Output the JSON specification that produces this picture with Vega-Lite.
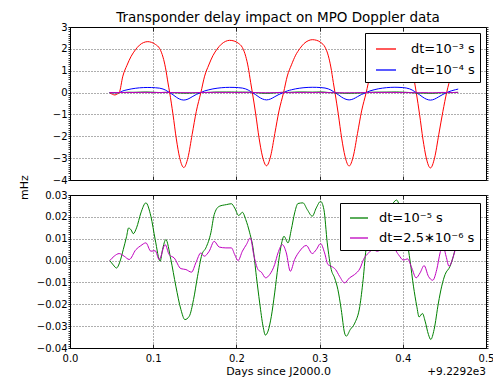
{
  "$schema": "https://vega.github.io/schema/vega-lite/v6.json",
  "padding": {"left": 17, "top": 10, "right": 0, "bottom": 0},
  "bounds": "flush",
  "spacing": 15,
  "datasets": {
    "top": [
      {"x": 0.0475, "r": 0, "b": 0},
      {"x": 0.051, "r": -0.08, "b": -0.008},
      {"x": 0.054, "r": -0.11, "b": -0.011},
      {"x": 0.057, "r": -0.06, "b": -0.006},
      {"x": 0.0592, "r": 0, "b": 0},
      {"x": 0.0635, "r": 0.75, "b": 0.075},
      {"x": 0.0685, "r": 1.25, "b": 0.125},
      {"x": 0.0735, "r": 1.66, "b": 0.166},
      {"x": 0.0785, "r": 1.95, "b": 0.195},
      {"x": 0.0835, "r": 2.17, "b": 0.217},
      {"x": 0.0885, "r": 2.29, "b": 0.229},
      {"x": 0.0935, "r": 2.33, "b": 0.233},
      {"x": 0.0978, "r": 2.30, "b": 0.230},
      {"x": 0.1028, "r": 2.20, "b": 0.220},
      {"x": 0.1078, "r": 2.01, "b": 0.201},
      {"x": 0.1118, "r": 1.62, "b": 0.162},
      {"x": 0.1148, "r": 1.13, "b": 0.113},
      {"x": 0.1178, "r": 0.44, "b": 0.044},
      {"x": 0.1198, "r": 0, "b": 0},
      {"x": 0.1238, "r": -1.0, "b": -0.1},
      {"x": 0.1278, "r": -2.12, "b": -0.212},
      {"x": 0.1318, "r": -2.98, "b": -0.298},
      {"x": 0.1368, "r": -3.43, "b": -0.343},
      {"x": 0.1418, "r": -2.97, "b": -0.297},
      {"x": 0.1468, "r": -1.92, "b": -0.192},
      {"x": 0.1518, "r": -0.86, "b": -0.086},
      {"x": 0.1573, "r": 0, "b": 0},
      {"x": 0.1618, "r": 0.75, "b": 0.075},
      {"x": 0.1668, "r": 1.26, "b": 0.126},
      {"x": 0.1718, "r": 1.69, "b": 0.169},
      {"x": 0.1768, "r": 1.99, "b": 0.199},
      {"x": 0.1818, "r": 2.21, "b": 0.221},
      {"x": 0.1868, "r": 2.34, "b": 0.234},
      {"x": 0.1918, "r": 2.39, "b": 0.239},
      {"x": 0.1972, "r": 2.36, "b": 0.236},
      {"x": 0.2022, "r": 2.26, "b": 0.226},
      {"x": 0.2072, "r": 2.06, "b": 0.206},
      {"x": 0.2112, "r": 1.66, "b": 0.166},
      {"x": 0.2142, "r": 1.16, "b": 0.116},
      {"x": 0.2172, "r": 0.45, "b": 0.045},
      {"x": 0.2192, "r": 0, "b": 0},
      {"x": 0.2232, "r": -0.98, "b": -0.098},
      {"x": 0.2272, "r": -2.07, "b": -0.207},
      {"x": 0.2312, "r": -2.9, "b": -0.29},
      {"x": 0.2362, "r": -3.35, "b": -0.335},
      {"x": 0.2412, "r": -2.9, "b": -0.29},
      {"x": 0.2462, "r": -1.87, "b": -0.187},
      {"x": 0.2512, "r": -0.84, "b": -0.084},
      {"x": 0.2567, "r": 0, "b": 0},
      {"x": 0.2612, "r": 0.76, "b": 0.076},
      {"x": 0.2662, "r": 1.27, "b": 0.127},
      {"x": 0.2712, "r": 1.71, "b": 0.171},
      {"x": 0.2762, "r": 2.01, "b": 0.201},
      {"x": 0.2812, "r": 2.24, "b": 0.224},
      {"x": 0.2862, "r": 2.37, "b": 0.237},
      {"x": 0.2912, "r": 2.42, "b": 0.242},
      {"x": 0.2965, "r": 2.39, "b": 0.239},
      {"x": 0.3015, "r": 2.29, "b": 0.229},
      {"x": 0.3065, "r": 2.08, "b": 0.208},
      {"x": 0.3105, "r": 1.68, "b": 0.168},
      {"x": 0.3135, "r": 1.17, "b": 0.117},
      {"x": 0.3165, "r": 0.46, "b": 0.046},
      {"x": 0.3185, "r": 0, "b": 0},
      {"x": 0.3225, "r": -0.99, "b": -0.099},
      {"x": 0.3265, "r": -2.08, "b": -0.208},
      {"x": 0.3305, "r": -2.91, "b": -0.291},
      {"x": 0.3355, "r": -3.36, "b": -0.336},
      {"x": 0.3405, "r": -2.91, "b": -0.291},
      {"x": 0.3455, "r": -1.88, "b": -0.188},
      {"x": 0.3505, "r": -0.84, "b": -0.084},
      {"x": 0.356, "r": 0, "b": 0},
      {"x": 0.3605, "r": 0.76, "b": 0.076},
      {"x": 0.3655, "r": 1.28, "b": 0.128},
      {"x": 0.3705, "r": 1.72, "b": 0.172},
      {"x": 0.3755, "r": 2.02, "b": 0.202},
      {"x": 0.3805, "r": 2.25, "b": 0.225},
      {"x": 0.3855, "r": 2.38, "b": 0.238},
      {"x": 0.3905, "r": 2.43, "b": 0.243},
      {"x": 0.3942, "r": 2.40, "b": 0.240},
      {"x": 0.3992, "r": 2.30, "b": 0.230},
      {"x": 0.4042, "r": 2.09, "b": 0.209},
      {"x": 0.4082, "r": 1.69, "b": 0.169},
      {"x": 0.4112, "r": 1.18, "b": 0.118},
      {"x": 0.4142, "r": 0.46, "b": 0.046},
      {"x": 0.4162, "r": 0, "b": 0},
      {"x": 0.4202, "r": -1.01, "b": -0.101},
      {"x": 0.4242, "r": -2.13, "b": -0.213},
      {"x": 0.4282, "r": -2.99, "b": -0.299},
      {"x": 0.4332, "r": -3.45, "b": -0.345},
      {"x": 0.4382, "r": -2.99, "b": -0.299},
      {"x": 0.4432, "r": -1.93, "b": -0.193},
      {"x": 0.4482, "r": -0.86, "b": -0.086},
      {"x": 0.4527, "r": 0, "b": 0},
      {"x": 0.4582, "r": 0.78, "b": 0.078},
      {"x": 0.4632, "r": 1.30, "b": 0.13},
      {"x": 0.4666, "r": 1.6, "b": 0.16}
    ],
    "green": [
      {"x": 0.0479, "v": 0},
      {"x": 0.052, "v": -0.002},
      {"x": 0.0559, "v": -0.0034},
      {"x": 0.06, "v": -0.0005},
      {"x": 0.064, "v": 0.005},
      {"x": 0.068, "v": 0.011},
      {"x": 0.0704, "v": 0.0149},
      {"x": 0.0735, "v": 0.014},
      {"x": 0.076, "v": 0.0123},
      {"x": 0.08, "v": 0.015},
      {"x": 0.0852, "v": 0.0218},
      {"x": 0.0912, "v": 0.0264},
      {"x": 0.0972, "v": 0.0203},
      {"x": 0.1024, "v": 0.0096},
      {"x": 0.1084, "v": -0.0003},
      {"x": 0.1112, "v": 0.005},
      {"x": 0.1152, "v": 0.0096},
      {"x": 0.1212, "v": 0.0005},
      {"x": 0.1272, "v": -0.0117},
      {"x": 0.1333, "v": -0.0224},
      {"x": 0.1381, "v": -0.027},
      {"x": 0.1433, "v": -0.0255},
      {"x": 0.1485, "v": -0.0178},
      {"x": 0.1533, "v": -0.0072},
      {"x": 0.1585, "v": 0.0027},
      {"x": 0.1633, "v": 0.0058},
      {"x": 0.1693, "v": 0.0127},
      {"x": 0.1733, "v": 0.021},
      {"x": 0.1793, "v": 0.0248},
      {"x": 0.188, "v": 0.0256},
      {"x": 0.194, "v": 0.026},
      {"x": 0.198, "v": 0.024},
      {"x": 0.2028, "v": 0.0206},
      {"x": 0.2072, "v": 0.0221},
      {"x": 0.2112, "v": 0.0188},
      {"x": 0.216, "v": 0.0127},
      {"x": 0.22, "v": 0.0058},
      {"x": 0.224, "v": -0.0072},
      {"x": 0.228, "v": -0.0194},
      {"x": 0.232, "v": -0.03},
      {"x": 0.2348, "v": -0.0341},
      {"x": 0.238, "v": -0.0323},
      {"x": 0.242, "v": -0.0255},
      {"x": 0.246, "v": -0.0148},
      {"x": 0.25, "v": -0.0026},
      {"x": 0.254, "v": 0.0073},
      {"x": 0.2572, "v": 0.0111},
      {"x": 0.262, "v": 0.0081},
      {"x": 0.266, "v": 0.0142},
      {"x": 0.27, "v": 0.0218},
      {"x": 0.274, "v": 0.0261},
      {"x": 0.28, "v": 0.0264},
      {"x": 0.2852, "v": 0.0233},
      {"x": 0.2912, "v": 0.0203},
      {"x": 0.296, "v": 0.0241},
      {"x": 0.3012, "v": 0.0271},
      {"x": 0.3052, "v": 0.0233},
      {"x": 0.3092, "v": 0.0081},
      {"x": 0.314, "v": -0.0041},
      {"x": 0.318, "v": -0.0079},
      {"x": 0.322, "v": -0.0133},
      {"x": 0.326, "v": -0.0224},
      {"x": 0.33, "v": -0.0331},
      {"x": 0.332, "v": -0.0346},
      {"x": 0.3368, "v": -0.0316},
      {"x": 0.3423, "v": -0.0286},
      {"x": 0.3483, "v": -0.021},
      {"x": 0.3523, "v": -0.0088},
      {"x": 0.3563, "v": 0.0064},
      {"x": 0.3603, "v": 0.0102},
      {"x": 0.365, "v": 0.017},
      {"x": 0.372, "v": 0.021},
      {"x": 0.38, "v": 0.022},
      {"x": 0.386, "v": 0.025},
      {"x": 0.3925, "v": 0.0277},
      {"x": 0.396, "v": 0.025},
      {"x": 0.4, "v": 0.018},
      {"x": 0.4048, "v": 0.0096},
      {"x": 0.4088, "v": -0.0003},
      {"x": 0.4128, "v": -0.0117},
      {"x": 0.4168, "v": -0.0209},
      {"x": 0.4196, "v": -0.0258},
      {"x": 0.4236, "v": -0.0242},
      {"x": 0.4268, "v": -0.0277},
      {"x": 0.4308, "v": -0.0338},
      {"x": 0.4336, "v": -0.0361},
      {"x": 0.4376, "v": -0.0316},
      {"x": 0.4428, "v": -0.0194},
      {"x": 0.4468, "v": -0.0117},
      {"x": 0.4508, "v": -0.0064},
      {"x": 0.4568, "v": -0.0026},
      {"x": 0.4608, "v": 0.002},
      {"x": 0.4648, "v": 0.0081},
      {"x": 0.4665, "v": 0.01}
    ],
    "mag": [
      {"x": 0.0479, "v": 0},
      {"x": 0.0531, "v": 0.002},
      {"x": 0.0591, "v": 0.0032},
      {"x": 0.0651, "v": 0.002},
      {"x": 0.0712, "v": 0.0005},
      {"x": 0.0792, "v": 0.005},
      {"x": 0.085, "v": 0.0068},
      {"x": 0.0912, "v": 0.0081},
      {"x": 0.0972, "v": 0.0043},
      {"x": 0.1024, "v": 0.0045},
      {"x": 0.1072, "v": 0.0005},
      {"x": 0.1144, "v": 0.0073},
      {"x": 0.1192, "v": 0.0027},
      {"x": 0.1252, "v": 0.0012},
      {"x": 0.1333, "v": -0.0037},
      {"x": 0.1393, "v": -0.0041},
      {"x": 0.1461, "v": -0.0053},
      {"x": 0.1513, "v": -0.001},
      {"x": 0.1573, "v": 0.0035},
      {"x": 0.1613, "v": 0.002},
      {"x": 0.1673, "v": 0.0043},
      {"x": 0.1733, "v": 0.0088},
      {"x": 0.1793, "v": 0.0062},
      {"x": 0.1873, "v": 0.0058},
      {"x": 0.194, "v": 0.0058},
      {"x": 0.198, "v": 0.0027},
      {"x": 0.202, "v": 0.0},
      {"x": 0.2072, "v": 0.0043},
      {"x": 0.212, "v": 0.0073},
      {"x": 0.2168, "v": 0.0104},
      {"x": 0.2208, "v": 0.0027},
      {"x": 0.226, "v": -0.0041},
      {"x": 0.23, "v": -0.0053},
      {"x": 0.2352, "v": -0.0079},
      {"x": 0.24, "v": -0.0064},
      {"x": 0.246, "v": -0.0018},
      {"x": 0.25, "v": 0.0035},
      {"x": 0.2552, "v": 0.0073},
      {"x": 0.26, "v": 0.0035},
      {"x": 0.2648, "v": -0.0049},
      {"x": 0.27, "v": 0.0005},
      {"x": 0.276, "v": 0.0043},
      {"x": 0.284, "v": 0.0069},
      {"x": 0.2912, "v": 0.0032},
      {"x": 0.296, "v": 0.005},
      {"x": 0.3012, "v": 0.0078},
      {"x": 0.306, "v": 0.0035},
      {"x": 0.31, "v": -0.0018},
      {"x": 0.314, "v": -0.0026},
      {"x": 0.3192, "v": -0.0041},
      {"x": 0.324, "v": -0.0072},
      {"x": 0.33, "v": -0.0102},
      {"x": 0.336, "v": -0.0079},
      {"x": 0.342, "v": -0.0064},
      {"x": 0.3488, "v": -0.0034},
      {"x": 0.3528, "v": 0.0005},
      {"x": 0.3588, "v": 0.0035},
      {"x": 0.3648, "v": 0.005},
      {"x": 0.3688, "v": 0.0043},
      {"x": 0.3748, "v": 0.005},
      {"x": 0.3868, "v": 0.0066},
      {"x": 0.3948, "v": 0.0027},
      {"x": 0.4008, "v": 0.0002},
      {"x": 0.4056, "v": 0.0008},
      {"x": 0.4108, "v": -0.0034},
      {"x": 0.416, "v": -0.0079},
      {"x": 0.4208, "v": -0.0056},
      {"x": 0.4256, "v": -0.0023},
      {"x": 0.4308, "v": -0.0072},
      {"x": 0.436, "v": -0.009},
      {"x": 0.4408, "v": -0.0041},
      {"x": 0.4448, "v": 0.0035},
      {"x": 0.448, "v": 0.0073},
      {"x": 0.452, "v": 0.002},
      {"x": 0.4556, "v": -0.0026},
      {"x": 0.4608, "v": 0.002},
      {"x": 0.4648, "v": 0.0073},
      {"x": 0.4665, "v": 0.0085}
    ],
    "offsetlabel": [{"t": "+9.2292e3"}]
  },
  "vconcat": [
    {
      "width": 416,
      "height": 153,
      "title": {"text": "Transponder delay impact on MPO Doppler data", "fontSize": 13.5, "fontWeight": "normal", "offset": -2},
      "layer": [
        {
          "data": {"name": "top"},
          "mark": {"type": "line", "strokeWidth": 1, "interpolate": "monotone"},
          "encoding": {
            "x": {"field": "x", "type": "quantitative", "scale": {"domain": [0, 0.5], "nice": false, "zero": false},
              "axis": {"orient": "bottom", "values": [0, 0.1, 0.2, 0.3, 0.4, 0.5], "labels": false, "grid": true, "tickSize": -4, "domain": false, "title": null}},
            "y": {"field": "r", "type": "quantitative", "scale": {"domain": [-4, 3], "nice": false, "zero": false},
              "axis": {"orient": "left", "values": [-4, -3, -2, -1, 0, 1, 2, 3], "grid": true, "tickSize": 2, "labelPadding": 1, "domain": false, "title": "mHz", "titleX": -46, "titleY": 160, "titleAngle": -90, "titleAlign": "center", "titleBaseline": "middle"}},
            "color": {"datum": "dt=10⁻³ s", "type": "nominal",
              "scale": {"domain": ["dt=10⁻³ s", "dt=10⁻⁴ s"], "range": ["#ff0000", "#0000ff"]},
              "legend": {"title": null, "orient": "none", "legendX": 295, "legendY": 6, "labelOffset": 14}}
          }
        },
        {
          "data": {"name": "top"},
          "mark": {"type": "line", "strokeWidth": 1, "interpolate": "monotone"},
          "encoding": {
            "x": {"field": "x", "type": "quantitative", "axis": null},
            "y": {"field": "b", "type": "quantitative", "axis": null},
            "color": {"datum": "dt=10⁻⁴ s", "type": "nominal"}
          }
        },
        {
          "data": {"name": "green"},
          "mark": {"type": "line", "strokeWidth": 1, "color": "#008000", "interpolate": "monotone"},
          "encoding": {
            "x": {"field": "x", "type": "quantitative",
              "axis": {"orient": "top", "values": [0.1, 0.2, 0.3, 0.4], "labels": false, "grid": false, "tickSize": -4, "domain": false, "title": null}},
            "y": {"field": "v", "type": "quantitative",
              "axis": {"orient": "right", "tickCount": 70, "labels": false, "grid": false, "tickSize": 2, "domain": false, "title": null}}
          }
        },
        {
          "data": {"name": "mag"},
          "mark": {"type": "line", "strokeWidth": 1, "color": "#bf00bf", "interpolate": "monotone"},
          "encoding": {
            "x": {"field": "x", "type": "quantitative", "axis": null},
            "y": {"field": "v", "type": "quantitative",
              "axis": {"orient": "left", "tickCount": 70, "labels": false, "grid": false, "tickSize": 2, "domain": false, "title": null}}
          }
        }
      ],
      "resolve": {"axis": {"x": "independent", "y": "independent"}}
    },
    {
      "width": 416,
      "height": 153,
      "layer": [
        {
          "data": {"name": "green"},
          "mark": {"type": "line", "strokeWidth": 1, "interpolate": "monotone"},
          "encoding": {
            "x": {"field": "x", "type": "quantitative", "scale": {"domain": [0, 0.5], "nice": false, "zero": false},
              "axis": {"orient": "bottom", "values": [0, 0.1, 0.2, 0.3, 0.4, 0.5], "format": ".1f", "grid": true, "tickSize": -4, "labelPadding": 9, "domain": false, "title": "Days since J2000.0", "titlePadding": 2}},
            "y": {"field": "v", "type": "quantitative", "scale": {"domain": [-0.04, 0.03], "nice": false, "zero": false},
              "axis": {"orient": "left", "values": [-0.04, -0.03, -0.02, -0.01, 0, 0.01, 0.02, 0.03], "format": ".2f", "grid": true, "tickSize": 2, "labelPadding": 1, "domain": false, "title": null}},
            "color": {"datum": "dt=10⁻⁵ s", "type": "nominal",
              "scale": {"domain": ["dt=10⁻⁵ s", "dt=2.5∗10⁻⁶ s"], "range": ["#008000", "#bf00bf"]},
              "legend": {"title": null, "orient": "none", "legendX": 270, "legendY": 8, "symbolSize": 324, "symbolOffset": 4, "labelOffset": 10}}
          }
        },
        {
          "data": {"name": "mag"},
          "mark": {"type": "line", "strokeWidth": 1, "interpolate": "monotone"},
          "encoding": {
            "x": {"field": "x", "type": "quantitative",
              "axis": {"orient": "top", "values": [0.1, 0.2, 0.3, 0.4], "labels": false, "grid": false, "tickSize": -4, "domain": false, "title": null}},
            "y": {"field": "v", "type": "quantitative",
              "axis": {"orient": "right", "tickCount": 70, "labels": false, "grid": false, "tickSize": 2, "domain": false, "title": null}},
            "color": {"datum": "dt=2.5∗10⁻⁶ s", "type": "nominal"}
          }
        },
        {
          "data": {"name": "offsetlabel"},
          "mark": {"type": "text", "align": "right", "baseline": "middle", "dy": 24, "fontSize": 10.5, "font": "DejaVu Sans", "color": "black"},
          "encoding": {
            "x": {"datum": 0.5, "type": "quantitative", "axis": null},
            "y": {"datum": -0.04, "type": "quantitative",
              "axis": {"orient": "left", "tickCount": 70, "labels": false, "grid": false, "tickSize": 2, "domain": false, "title": null}},
            "text": {"field": "t"}
          }
        }
      ],
      "resolve": {"axis": {"x": "independent", "y": "independent"}}
    }
  ],
  "resolve": {"scale": {"color": "independent"}, "legend": {"color": "independent"}},
  "config": {
    "font": "DejaVu Sans",
    "view": {"stroke": "black", "strokeWidth": 1},
    "title": {"font": "DejaVu Sans", "fontSize": 13.5, "fontWeight": "normal", "color": "black"},
    "axis": {
      "labelFont": "DejaVu Sans", "labelFontSize": 10, "labelColor": "black",
      "titleFont": "DejaVu Sans", "titleFontSize": 11, "titleFontWeight": "normal", "titleColor": "black",
      "domainColor": "black", "tickColor": "black", "tickWidth": 0.8,
      "gridColor": "black", "gridDash": [1, 2], "gridOpacity": 0.8, "gridWidth": 0.8,
      "labelFlush": false, "labelOverlap": false, "labelBound": false
    },
    "legend": {
      "strokeColor": "black", "fillColor": "white", "padding": 5, "cornerRadius": 0,
      "symbolType": "stroke", "symbolSize": 400, "symbolStrokeWidth": 1.3, "symbolOffset": 5,
      "labelFont": "DejaVu Sans", "labelFontSize": 13, "labelColor": "black", "labelLimit": 300,
      "rowPadding": 3
    }
  }
}
